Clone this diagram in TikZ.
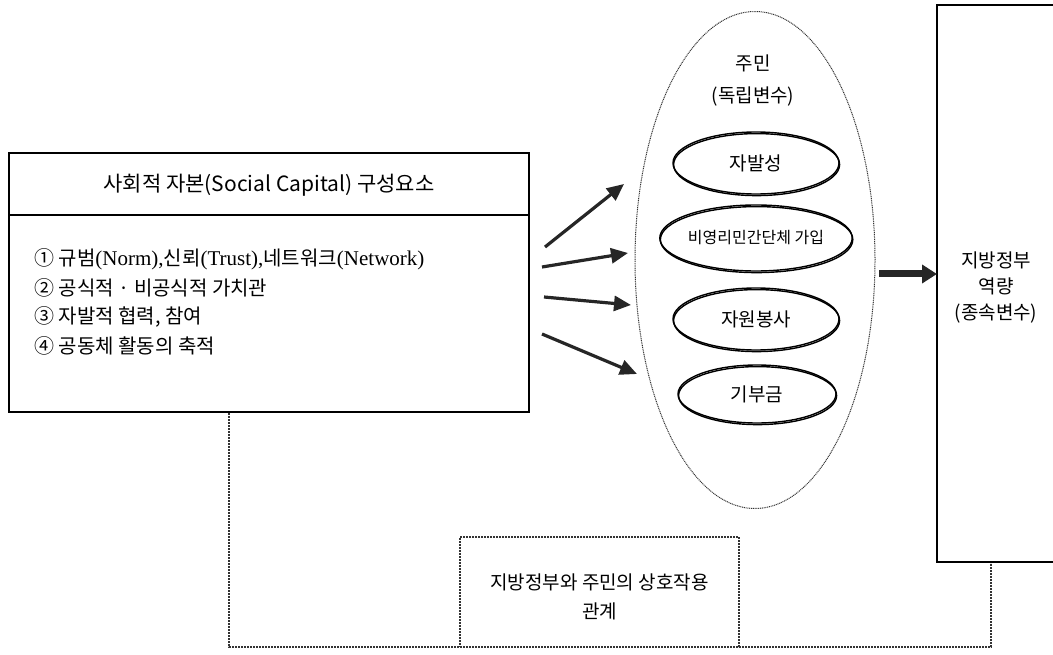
\documentclass[tikz,border=0pt]{standalone}
\usepackage{fontspec}
\setmainfont{Liberation Serif}
\newfontfamily\kr{Noto Sans CJK KR}
\usetikzlibrary{arrows.meta,shapes.geometric}
\begin{document}
\begin{tikzpicture}[x=1pt,y=-1pt,
  box/.style={draw,line width=1.8pt},
  dotline/.style={draw=black!80,line width=1.3pt,dash pattern=on 1.6pt off 1.4pt},
  fineline/.style={draw=black!80,line width=1pt,dash pattern=on 1pt off 0.8pt},
  fatarrow/.style={line width=3.2pt,-{Triangle[length=17pt,width=15pt]},draw=black!85,fill=black!85},
  innerell/.style={ellipse,draw,line width=1.4pt,inner sep=0pt,
     preaction={draw,line width=1.4pt,transform canvas={shift={(0.6pt,-1.6pt)}}}},
  ktext/.style={font=\kr\fontsize{19}{32}\selectfont,align=center},
  krf/.style={font=\kr\fontsize{19}{20}\selectfont},
  itemtext/.style={font=\fontsize{21}{20}\selectfont,anchor=west,inner sep=0pt}]
\useasboundingbox (0,0) rectangle (1053,655);

% left box
\node[box,rectangle,minimum width=520pt,minimum height=259pt,inner sep=0pt] (sc) at (269,282.5) {};
\draw[line width=1.8pt] (9,215) -- (529,215);
\node[font=\kr\fontsize{21}{22}\selectfont] (title) at (269,185) {사회적 자본(Social Capital) 구성요소};
\node[itemtext] (i1) at (34,259) {{\kr\fontsize{20}{20}\selectfont ①\ 규범}(Norm),{\kr\fontsize{20}{20}\selectfont 신뢰}(Trust),{\kr\fontsize{20}{20}\selectfont 네트워크}(Network)};
\node[itemtext] (i2) at (34,288) {\kr\fontsize{20}{20}\selectfont ②\ 공식적 · 비공식적 가치관};
\node[itemtext] (i3) at (34,317) {\kr\fontsize{20}{20}\selectfont ③\ 자발적 협력, 참여};
\node[itemtext] (i4) at (34,346) {\kr\fontsize{20}{20}\selectfont ④\ 공동체 활동의 축적};

% residents ellipse
\node[ellipse,fineline,minimum width=240pt,minimum height=497pt,inner sep=0pt] (res) at (755,260) {};
\node[ktext] (restitle) at (753,81) {주민\\(독립변수)};
\node[innerell,minimum width=166pt,minimum height=62pt,krf] (e1) at (756,163) {자발성};
\node[innerell,minimum width=168pt,minimum height=66pt,font=\kr\fontsize{16}{18}\selectfont] (e2) at (756,238) {비영리민간단체 가입};
\node[innerell,minimum width=166pt,minimum height=62pt,krf] (e3) at (756,319) {자원봉사};
\node[innerell,minimum width=158pt,minimum height=58pt,krf] (e4) at (757,394) {기부금};

% arrows from left box
\coordinate (a1s) at (545,247); \coordinate (a1e) at (624,184);
\coordinate (a2s) at (542,267); \coordinate (a2e) at (628,253);
\coordinate (a3s) at (544,297); \coordinate (a3e) at (631,305);
\coordinate (a4s) at (542,334); \coordinate (a4e) at (637,374);
\draw[fatarrow] (a1s) -- (a1e);
\draw[fatarrow] (a2s) -- (a2e);
\draw[fatarrow] (a3s) -- (a3e);
\draw[fatarrow] (a4s) -- (a4e);

% right box
\draw[box] (1060,5) -- (937,5) -- (937,562) -- (1060,562);
\coordinate (gl) at (937,274);
\node[font=\kr\fontsize{19}{26}\selectfont,align=center] (gov) at (996,288) {지방정부\\역량\\(종속변수)};
\coordinate (bas) at (879,274);
\draw[line width=7pt,-{Triangle[length=15pt,width=18pt]},draw=black!85,fill=black!85] (bas) -- (gl);

% interaction box and dotted connector
\node[rectangle,dotline,minimum width=279pt,minimum height=110pt,inner sep=0pt] (inter) at (599.5,592) {};
\node[font=\kr\fontsize{19}{29}\selectfont,align=center] (intertext) at (599.5,597) {지방정부와 주민의 상호작용\\관계};
\coordinate (d0) at (229,413);
\coordinate (d1) at (229,647);
\coordinate (d2) at (991,647);
\coordinate (d3) at (991,563);
\draw[dotline] (d0) -- (d1) -- (d2) -- (d3);
\end{tikzpicture}
\end{document}
